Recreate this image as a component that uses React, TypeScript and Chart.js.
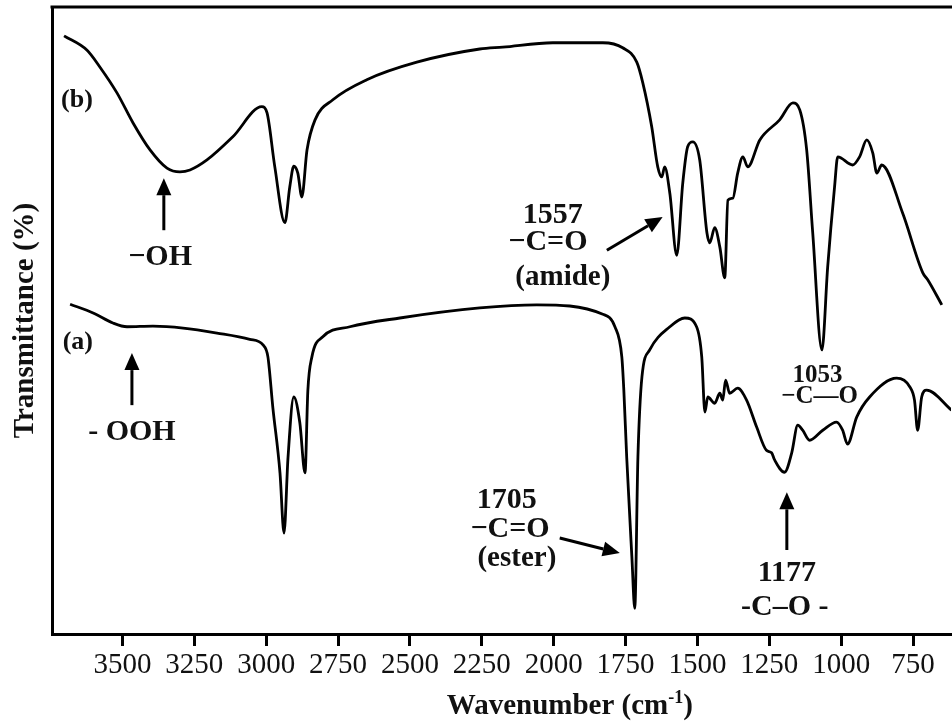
import { useEffect, useRef } from "react";
import { Chart, registerables } from "chart.js";

Chart.register(...registerables);

// ---- data (wavenumber cm-1, transmittance in arbitrary % units) ----
const wavenumberB = [
  3703, 3623, 3578, 3519, 3463, 3404, 3345, 3300, 3265, 3206, 3116, 3015, 2997, 2970, 2935, 2918,
  2904, 2890, 2876, 2858, 2830, 2768, 2650, 2476, 2257, 2177, 2003, 1829, 1760, 1711, 1690, 1659,
  1638, 1624, 1614, 1596, 1572, 1551, 1534, 1516, 1492, 1467, 1457, 1440, 1422, 1405, 1394, 1377,
  1360, 1342, 1325, 1283, 1214, 1168, 1144, 1120, 1099, 1067, 1047, 1023, 1012, 960, 936, 911, 890,
  876, 859, 786, 716, 699, 650,
];
const transmittanceB = [
  95.4, 93.1, 90.4, 86.3, 81.5, 77.2, 74.3, 73.7, 74.0, 75.6, 79.3, 84.1, 83.1, 74.5, 65.6, 71.3,
  74.6, 73.5, 69.7, 77.2, 82.0, 85.2, 88.4, 91.2, 93.3, 93.6, 94.3, 94.3, 93.5, 91.2, 87.9, 80.9,
  74.5, 72.9, 74.5, 70.3, 60.4, 71.9, 77.7, 78.5, 75.6, 64.0, 62.4, 64.8, 61.7, 56.8, 69.2, 69.5,
  73.5, 76.1, 74.5, 78.8, 82.0, 84.7, 83.6, 77.2, 64.0, 45.3, 58.5, 71.3, 76.1, 74.8, 76.1, 78.8, 76.7,
  73.5, 74.8, 67.1, 57.6, 56.5, 52.5,
];

const wavenumberA = [
  3682, 3602, 3533, 3484, 3394, 3289, 3171, 3057, 3011, 2994, 2977, 2952, 2938, 2924, 2904, 2883,
  2865, 2855, 2841, 2803, 2709, 2535, 2257, 2059, 1829, 1787, 1763, 1756, 1746, 1728, 1718, 1707,
  1693, 1666, 1596, 1544, 1503, 1485, 1474, 1464, 1440, 1422, 1412, 1402, 1388, 1360, 1329, 1294,
  1260, 1242, 1232, 1197, 1172, 1151, 1134, 1110, 1064, 1016, 995, 978, 946, 901, 807, 761, 745,
  734, 720, 703, 616,
];
const transmittanceA = [
  52.6, 51.2, 49.6, 49.0, 49.1, 48.8, 48.0, 47.0, 46.1, 44.2, 36.2, 25.7, 16.1, 28.2, 37.8, 33.7,
  25.7, 38.9, 44.2, 47.4, 49.0, 50.4, 52.0, 52.5, 51.0, 49.0, 44.2, 38.9, 28.2, 12.3, 4.1, 28.2,
  41.0, 45.3, 49.0, 50.4, 49.0, 44.2, 35.4, 37.8, 36.8, 38.4, 37.3, 40.5, 38.4, 39.2, 37.3, 33.0,
  29.3, 28.9, 27.8, 25.8, 28.9, 33.3, 32.5, 30.9, 32.5, 33.8, 32.5, 30.3, 34.6, 37.8, 40.8, 39.4, 37.3,
  32.5, 37.8, 38.9, 35.7,
];

const xTickValues = [3500, 3250, 3000, 2750, 2500, 2250, 2000, 1750, 1500, 1250, 1000, 750];

// ---- annotations (placed in data coordinates) ----
const noteText = ["(b)", "(a)", "−OH", "- OOH", "1557", "−C=O", "(amide)", "1705", "−C=O", "(ester)", "1177", "-C–O -", "1053", "−C—O"];
const noteWavenumber = [3658, 3655, 3369, 3467, 2003, 2020, 1968, 2163, 2152, 2128, 1189, 1196, 1082, 1075];
const noteTransmittance = [85.2, 46.6, 60.1, 32.1, 66.8, 62.5, 56.9, 21.4, 16.7, 12.1, 9.7, 4.3, 41.3, 37.8];
const noteSize = [26, 26, 30, 30, 30, 30, 29, 30, 30, 29, 30, 30, 25, 25];

const arrowFromWavenumber = [3356, 3467, 1815, 1979, 1189];
const arrowFromTransmittance = [64.4, 36.5, 61.2, 15.3, 13.4];
const arrowToWavenumber = [3356, 3467, 1621, 1770, 1189];
const arrowToTransmittance = [72.7, 44.8, 66.5, 12.9, 22.6];

const FONT = "'Liberation Serif', 'Times New Roman', Times, serif";
const INK = "#111111";

const notesPlugin = {
  id: "ftirNotes",
  afterDraw(chart: any) {
    const { ctx, chartArea } = chart;
    const xs = chart.scales.x;
    const ys = chart.scales.y;
    ctx.save();
    // top frame line
    ctx.strokeStyle = "#000";
    ctx.lineWidth = 3;
    ctx.beginPath();
    ctx.moveTo(chartArea.left - 1.5, chartArea.top);
    ctx.lineTo(chartArea.right + 2, chartArea.top);
    ctx.stroke();

    // labels
    ctx.fillStyle = INK;
    ctx.textAlign = "center";
    ctx.textBaseline = "middle";
    noteText.forEach((t, i) => {
      ctx.font = `bold ${noteSize[i]}px ${FONT}`;
      ctx.fillText(t, xs.getPixelForValue(noteWavenumber[i]), ys.getPixelForValue(noteTransmittance[i]));
    });

    // arrows
    ctx.strokeStyle = "#000";
    ctx.fillStyle = "#000";
    ctx.lineWidth = 3;
    arrowFromWavenumber.forEach((_, i) => {
      const x1 = xs.getPixelForValue(arrowFromWavenumber[i]);
      const y1 = ys.getPixelForValue(arrowFromTransmittance[i]);
      const x2 = xs.getPixelForValue(arrowToWavenumber[i]);
      const y2 = ys.getPixelForValue(arrowToTransmittance[i]);
      const ang = Math.atan2(y2 - y1, x2 - x1);
      const hl = 17;
      const hw = 7.5;
      const bx = x2 - hl * Math.cos(ang);
      const by = y2 - hl * Math.sin(ang);
      ctx.beginPath();
      ctx.moveTo(x1, y1);
      ctx.lineTo(bx, by);
      ctx.stroke();
      ctx.beginPath();
      ctx.moveTo(x2, y2);
      ctx.lineTo(bx + hw * Math.sin(ang), by - hw * Math.cos(ang));
      ctx.lineTo(bx - hw * Math.sin(ang), by + hw * Math.cos(ang));
      ctx.closePath();
      ctx.fill();
    });

    // x-axis title with superscript
    const main1 = "Wavenumber (cm";
    const sup = "-1";
    const main2 = ")";
    ctx.fillStyle = INK;
    ctx.textBaseline = "alphabetic";
    ctx.textAlign = "left";
    ctx.font = `bold 29px ${FONT}`;
    const w1 = ctx.measureText(main1).width;
    const w3 = ctx.measureText(main2).width;
    ctx.font = `bold 18px ${FONT}`;
    const w2 = ctx.measureText(sup).width;
    const total = w1 + w2 + w3;
    const cx = chartArea.left + (chartArea.right - chartArea.left) * 0.576;
    const base = chartArea.bottom + 80;
    let sx = cx - total / 2;
    ctx.font = `bold 29px ${FONT}`;
    ctx.fillText(main1, sx, base);
    sx += w1;
    ctx.font = `bold 18px ${FONT}`;
    ctx.fillText(sup, sx, base - 11);
    sx += w2;
    ctx.font = `bold 29px ${FONT}`;
    ctx.fillText(main2, sx, base);
    ctx.restore();
  },
};

export default function App() {
  const canvasRef = useRef<HTMLCanvasElement | null>(null);

  useEffect(() => {
    const canvas = canvasRef.current;
    if (!canvas) return;
    const chart = new Chart(canvas, {
      type: "line",
      data: {
        datasets: [
          {
            label: "(b)",
            data: wavenumberB.map((w, i) => ({ x: w, y: transmittanceB[i] })),
            borderColor: "#000",
            borderWidth: 2.8,
            pointRadius: 0,
            cubicInterpolationMode: "monotone",
            fill: false,
          },
          {
            label: "(a)",
            data: wavenumberA.map((w, i) => ({ x: w, y: transmittanceA[i] })),
            borderColor: "#000",
            borderWidth: 2.8,
            pointRadius: 0,
            cubicInterpolationMode: "monotone",
            fill: false,
          },
        ],
      },
      options: {
        animation: false,
        responsive: false,
        devicePixelRatio: 1,
        layout: { padding: { top: 7, right: 1, left: 0, bottom: 0 } },
        plugins: {
          legend: { display: false },
          tooltip: { enabled: false },
        },
        scales: {
          x: {
            type: "linear",
            reverse: true,
            min: 618,
            max: 3745,
            afterBuildTicks: (s: any) => {
              s.ticks = xTickValues.map((v) => ({ value: v }));
            },
            afterFit: (s: any) => {
              s.height = 90;
            },
            ticks: {
              includeBounds: false,
              maxRotation: 0,
              autoSkip: false,
              padding: 2,
              color: INK,
              font: { family: FONT, size: 29 },
              callback: (v: any) => String(v),
            },
            grid: {
              display: true,
              drawOnChartArea: false,
              drawTicks: true,
              tickLength: 12,
              tickWidth: 3,
              tickColor: "#000",
            },
            border: { display: true, width: 3, color: "#000" },
            title: { display: false },
          },
          y: {
            type: "linear",
            min: 0,
            max: 100,
            afterFit: (s: any) => {
              s.width = 52;
            },
            ticks: { display: false },
            grid: { display: false, drawTicks: false },
            border: { display: true, width: 3, color: "#000" },
            title: {
              display: true,
              text: "Transmittance (%)",
              color: INK,
              font: { family: FONT, size: 29, weight: "bold" },
              padding: { top: 8, bottom: 0 },
            },
          },
        },
      },
      plugins: [notesPlugin],
    } as any);
    return () => chart.destroy();
  }, []);

  return (
    <div style={{ position: "absolute", left: 0, top: 0, width: 952, height: 724, background: "#fff" }}>
      <canvas ref={canvasRef} width={952} height={724} style={{ width: 952, height: 724, display: "block" }} />
    </div>
  );
}
